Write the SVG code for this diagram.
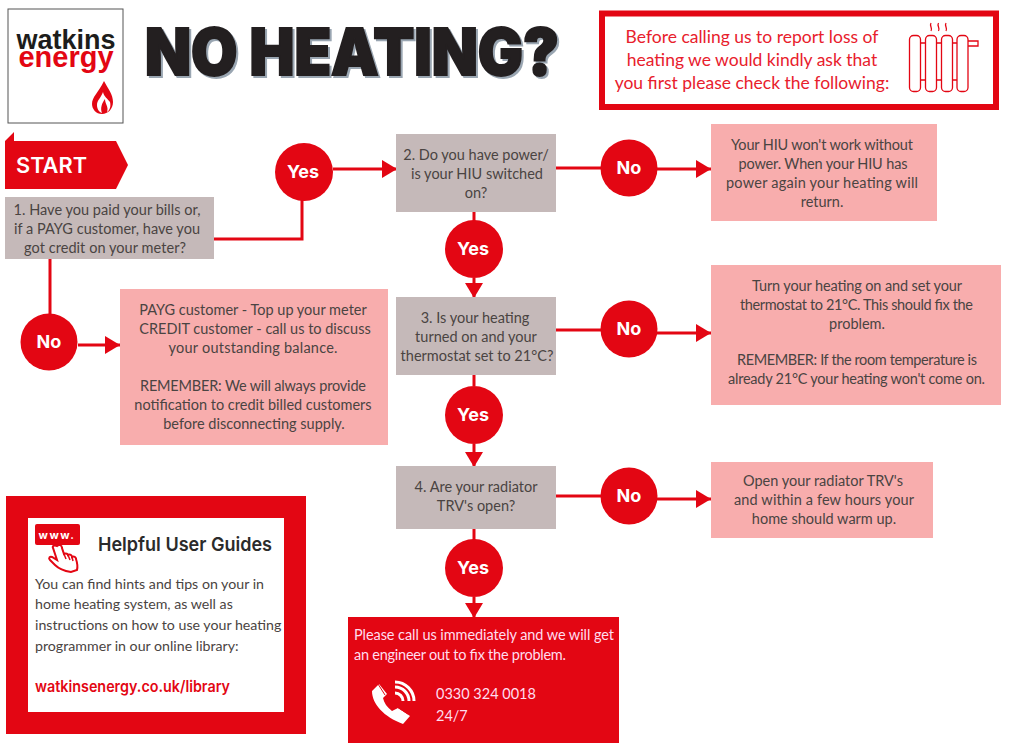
<svg xmlns="http://www.w3.org/2000/svg" width="1012" height="756" viewBox="0 0 1012 756">
<style>
text{font-family:"Lato","Open Sans",sans-serif}
.t{font-size:14.5px;fill:#4a4442;text-anchor:middle}
.lab{font-size:18px;font-weight:700;fill:#fff;text-anchor:middle;font-family:"Inter",sans-serif}
.grey{fill:#c5b9b9}
.pink{fill:#f8adad}
.red{fill:#e30613}
.c{fill:none;stroke:#e30613;stroke-width:3}
.ol{fill:none;stroke:#e30613;stroke-width:1.3}
</style>
<defs>
<marker id="a" markerUnits="userSpaceOnUse" markerWidth="16" markerHeight="18" refX="15" refY="9" orient="auto"><path d="M0 0L15 9L0 18Z" fill="#e30613"/></marker>
</defs>
<rect width="1012" height="756" fill="#fff"/>
<g id="logo">
<rect x="8" y="9" width="115" height="114" fill="#fff" stroke="#555" stroke-width="1"/>
<text x="66" y="49" text-anchor="middle" style="font-family:'Liberation Sans',sans-serif;font-weight:700;font-size:27px;fill:#1d1d1b" textLength="99" lengthAdjust="spacingAndGlyphs">watkins</text>
<text x="66" y="67" text-anchor="middle" style="font-family:'Liberation Sans',sans-serif;font-weight:700;font-size:29px;fill:#e30613" textLength="95" lengthAdjust="spacingAndGlyphs">energy</text>
<path class="red" d="M104 81C108 89 113 94 113 102C113 109 108 114 102 114C96 114 92 109 92 104C92 97 98 93 104 81ZM103 92C101 98 97 100 97 105C97 109 99 112 102 113C100 108 102 103 105 99C105 104 109 107 107 112C110 110 111 106 110 102C108 99 104 97 103 92Z"/>
</g>
<g id="title">
<text x="147" y="77" style="font-family:'Inter',sans-serif;font-weight:900;font-size:64px;fill:#9aa6b2;stroke:#9aa6b2;stroke-width:2" textLength="414" lengthAdjust="spacingAndGlyphs">NO HEATING?</text>
<text x="145" y="75" style="font-family:'Inter',sans-serif;font-weight:900;font-size:64px;fill:#231f20;stroke:#231f20;stroke-width:2" textLength="414" lengthAdjust="spacingAndGlyphs">NO HEATING?</text>
</g>
<g id="intro">
<rect x="602" y="13.500" width="394" height="93.500" fill="#fff" stroke="#e30613" stroke-width="6"/>
<g style="font-size:17.500px;fill:#e8202c;text-anchor:middle">
<text x="752" y="43">Before calling us to report loss of</text>
<text x="752" y="66">heating we would kindly ask that</text>
<text x="752" y="89">you first please check the following:</text>
</g>
<g class="ol">
<rect x="909.500" y="35.500" width="11" height="56" rx="4"/><rect x="925.500" y="35.500" width="11" height="56" rx="4"/><rect x="941.500" y="35.500" width="11" height="56" rx="4"/><rect x="957" y="35.500" width="11" height="56" rx="4"/>
<path d="M920.500 43h5M936.500 43h5M952.500 43h4.500M920.500 80h5M936.500 80h5M952.500 80h4.500M968 41h10v5h-10M931 23c-2 3 2 5 0 8M938.500 23c-2 3 2 5 0 8M946 23c-2 3 2 5 0 8"/>
</g>
</g>
<g id="start">
<path class="red" d="M5 189V141L14 132V141H116L128 165L116 189Z"/>
<text x="16" y="173" style="font-family:'Inter',sans-serif;font-size:21px;font-weight:600;fill:#fff" textLength="71" lengthAdjust="spacingAndGlyphs">START</text>
</g>
<g id="connectors">
<path class="c" d="M214 239H302V190"/>
<path class="c" d="M333 169H397" marker-end="url(#a)"/>
<path class="c" d="M50 258V322"/>
<path class="c" d="M78 345H120" marker-end="url(#a)"/>
<path class="c" d="M474 211V228"/>
<path class="c" d="M474 278V298" marker-end="url(#a)"/>
<path class="c" d="M556 168H602"/>
<path class="c" d="M657 169H711" marker-end="url(#a)"/>
<path class="c" d="M474 374V386"/>
<path class="c" d="M474 444V467" marker-end="url(#a)"/>
<path class="c" d="M556 330H602"/>
<path class="c" d="M657 333H711" marker-end="url(#a)"/>
<path class="c" d="M474 529V540"/>
<path class="c" d="M474 597V618" marker-end="url(#a)"/>
<path class="c" d="M556 496H602"/>
<path class="c" d="M657 499H711" marker-end="url(#a)"/>
</g>
<g id="q1">
<rect class="grey" x="5" y="197" width="209" height="62"/>
<text class="t"><tspan x="107" y="215" textLength="187">1. Have you paid your bills or,</tspan><tspan x="107" y="234" textLength="186">if a PAYG customer, have you</tspan><tspan x="105" y="253" textLength="162">got credit on your meter?</tspan></text>
</g>
<g id="q2">
<rect class="grey" x="396" y="134" width="160" height="78"/>
<text class="t"><tspan x="476" y="160">2. Do you have power/</tspan><tspan x="477" y="179">is your HIU switched</tspan><tspan x="476" y="198">on?</tspan></text>
</g>
<g id="q3">
<rect class="grey" x="396" y="297" width="160" height="78"/>
<text class="t"><tspan x="475" y="323">3. Is your heating</tspan><tspan x="476" y="342">turned on and your</tspan><tspan x="477" y="361">thermostat set to 21°C?</tspan></text>
</g>
<g id="q4">
<rect class="grey" x="396" y="466" width="160" height="63"/>
<text class="t"><tspan x="476" y="492">4. Are your radiator</tspan><tspan x="476" y="511">TRV's open?</tspan></text>
</g>
<g id="yes1"><circle class="red" cx="304" cy="172" r="29"/><text class="lab" x="303" y="178">Yes</text></g>
<g id="yes2"><circle class="red" cx="474" cy="249" r="29"/><text class="lab" x="473" y="255">Yes</text></g>
<g id="yes3"><circle class="red" cx="474" cy="415" r="29"/><text class="lab" x="473" y="421">Yes</text></g>
<g id="yes4"><circle class="red" cx="474" cy="568" r="29"/><text class="lab" x="473" y="574">Yes</text></g>
<g id="no1"><circle class="red" cx="49" cy="342" r="28.500"/><text class="lab" x="49" y="348">No</text></g>
<g id="no2"><circle class="red" cx="629" cy="168" r="28.500"/><text class="lab" x="629" y="174">No</text></g>
<g id="no3"><circle class="red" cx="629" cy="329" r="28.500"/><text class="lab" x="629" y="335">No</text></g>
<g id="no4"><circle class="red" cx="629" cy="496" r="28.500"/><text class="lab" x="629" y="502">No</text></g>
<g id="a1">
<rect class="pink" x="120" y="289" width="268" height="156"/>
<text class="t"><tspan x="253" y="315">PAYG customer - Top up your meter</tspan><tspan x="255" y="334">CREDIT customer - call us to discuss</tspan><tspan x="253" y="353" textLength="169">your outstanding balance.</tspan><tspan x="253" y="391" textLength="226">REMEMBER: We will always provide</tspan><tspan x="253" y="410">notification to credit billed customers</tspan><tspan x="254" y="429">before disconnecting supply.</tspan></text>
</g>
<g id="a2">
<rect class="pink" x="711" y="124" width="226" height="97"/>
<text class="t"><tspan x="822" y="150" textLength="182">Your HIU won't work without</tspan><tspan x="823" y="169" textLength="169">power. When your HIU has</tspan><tspan x="822" y="188" textLength="192">power again your heating will</tspan><tspan x="822" y="207">return.</tspan></text>
</g>
<g id="a3">
<rect class="pink" x="711" y="265" width="290" height="140"/>
<text class="t"><tspan x="857" y="291" textLength="210">Turn your heating on and set your</tspan><tspan x="856.500" y="310" textLength="233">thermostat to 21°C. This should fix the</tspan><tspan x="857" y="329">problem.</tspan><tspan x="857" y="365" textLength="240">REMEMBER: If the room temperature is</tspan><tspan x="856.500" y="384" textLength="257">already 21°C your heating won't come on.</tspan></text>
</g>
<g id="a4">
<rect class="pink" x="711" y="462" width="222" height="76"/>
<text class="t"><tspan x="823" y="486">Open your radiator TRV's</tspan><tspan x="824" y="505" textLength="180">and within a few hours your</tspan><tspan x="824" y="524">home should warm up.</tspan></text>
</g>
<g id="call">
<rect class="red" x="348" y="617" width="271" height="126"/>
<g style="font-size:14.500px;fill:#fde">
<text x="354" y="640" textLength="260">Please call us immediately and we will get</text>
<text x="354" y="660" textLength="212">an engineer out to fix the problem.</text>
<text x="436" y="699">0330 324 0018</text>
<text x="436" y="721">24/7</text>
</g>
<path d="M379 684L372 691C372 704 384 717 403 724L410 716L398 708L392 711C387 707 384 703 383 698L387 694Z" fill="#fff"/>
<path d="M378 684l7 11M397 707l11 7" fill="none" stroke="#e30613" stroke-width="1"/>
<path d="M395 693a8 8 0 0 1 8 8M395 687a14 14 0 0 1 14 14M395 682a19 19 0 0 1 19 19" fill="none" stroke="#fff" stroke-width="3"/>
</g>
<g id="guides">
<rect x="17" y="507" width="278" height="216" fill="#fff" stroke="#e30613" stroke-width="22"/>
<rect class="red" x="35" y="524" width="45" height="21" rx="2"/>
<text x="57" y="539" text-anchor="middle" style="font-family:'Inter',sans-serif;font-size:11px;font-weight:700;fill:#fff;letter-spacing:1.500px">www.</text>
<path d="M57 546c2-2 5-1 5 2l2 6c2-1 4 0 4 1c2-1 4 0 4 2c2-1 4 0 4 2c1 3 2 7 1 11l-6 2c-6-1-12-3-16-7l-5-5c-2-2 0-4 2-3l5 3-4-12c-1-2 1-3 4-2Z" fill="#fff" stroke="#e30613" stroke-width="2"/>
<path d="M64 554l2 5M68 555l2 5M72 557l1 4" fill="none" stroke="#e30613" stroke-width="1.500"/>
<text x="98" y="551" style="font-family:'Inter',sans-serif;font-size:19px;font-weight:600;fill:#2b2b2b" textLength="174" lengthAdjust="spacingAndGlyphs">Helpful User Guides</text>
<g style="font-size:14.200px;fill:#4a4442">
<text x="35" y="589">You can find hints and tips on your in</text>
<text x="35" y="609">home heating system, as well as</text>
<text x="35" y="630">instructions on how to use your heating</text>
<text x="35" y="651">programmer in our online library:</text>
</g>
<text x="35" y="692" style="font-family:'Inter',sans-serif;font-size:15.500px;font-weight:600;fill:#e30613" textLength="195" lengthAdjust="spacingAndGlyphs">watkinsenergy.co.uk/library</text>
</g>
</svg>
